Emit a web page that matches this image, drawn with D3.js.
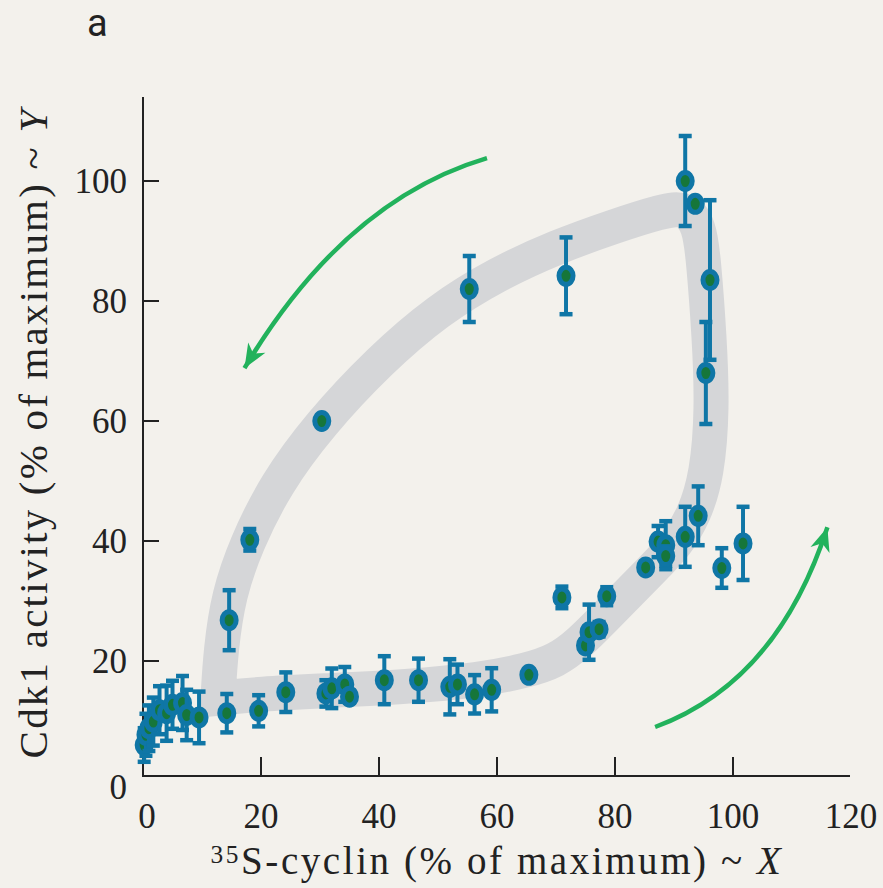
<!DOCTYPE html>
<html>
<head>
<meta charset="utf-8">
<script src="https://cdn.jsdelivr.net/npm/d3@7"></script>
<style>
  html, body { margin: 0; padding: 0; background: #f3f1ec; }
  svg { display: block; }
  .serif { font-family: "Liberation Serif", serif; }
</style>
</head>
<body>
<svg id="chart" width="883" height="888"></svg>
<script>
// ---------------- DATA ----------------
const cyclinX = [0.2, 0.5, 1.0, 1.75, 2.8, 4.0, 5.0, 6.7, 7.4, 9.5, 14.2, 19.6, 24.2, 31.0, 32.0, 34.2, 35.0, 40.9, 46.7, 52.0, 53.3, 56.2, 59.1, 65.4,
  71.0, 75.0, 75.6, 77.3, 78.6, 85.2, 87.3, 88.6, 88.6, 91.9, 94.1, 98.1, 101.7,
  14.6, 18.1, 30.3, 55.3, 71.7, 91.9, 93.6, 96.1, 95.4];
const cdkY = [6.0, 7.7, 8.8, 9.9, 11.8, 11.3, 12.7, 13.0, 11.0, 10.6, 11.3, 11.7, 14.8, 14.6, 15.45, 16.1, 14.05, 16.8, 16.8, 15.7, 16.1, 14.45, 15.2, 17.7,
  30.6, 22.6, 24.8, 25.3, 30.8, 35.6, 39.9, 39.3, 37.5, 40.7, 44.2, 35.5, 39.6,
  26.8, 40.2, 60.0, 82.0, 84.2, 100.0, 96.2, 83.5, 68.0];
const cdkErr = [2.8, 3.5, 3.8, 4.0, 4.0, 4.6, 4.0, 4.5, 4.2, 4.3, 3.2, 2.6, 3.3, 2.2, 3.3, 2.9, 1.0, 4.0, 3.6, 4.6, 3.3, 3.2, 3.6, 0.8,
  1.8, 1.0, 4.6, 1.2, 1.5, 0.8, 2.6, 4.0, 1.6, 5.0, 4.9, 3.3, 6.1,
  5.0, 1.8, 0.0, 5.5, 6.4, 7.5, 0.5, 13.3, 8.5];

// Gray guide band (control points of its centerline, in data units)
const bandX = [12.7, 13.2, 14.5, 17.5, 22.5, 30.0, 40.0, 50.0, 60.0, 70.0, 80.0, 88.0, 92.0, 94.3, 95.0, 96.0, 96.5, 95.6, 93.5, 90.5, 86.0, 82.0, 78.0, 74.0, 70.0, 65.0, 57.0, 45.0, 30.0, 19.8, 12.7];
const bandY = [13.8, 22.0, 31.0, 39.5, 49.5, 59.5, 70.0, 78.5, 84.5, 89.0, 92.5, 95.0, 95.6, 92.5, 87.0, 74.0, 62.0, 51.0, 44.5, 39.5, 35.0, 31.0, 27.0, 23.0, 20.0, 18.4, 16.8, 15.7, 15.0, 14.5, 13.8];

// Direction arrows (start, control, end) in data units
const arrowDown = [[58.3, 103.8], [34.2, 96.8], [17.2, 68.8]];
const arrowUp = [[86.8, 9.0], [107.5, 16.5], [116.0, 42.3]];

const xTicks = [0, 20, 40, 60, 80, 100, 120];
const yTicks = [0, 20, 40, 60, 80, 100];

// ---------------- DRAW ----------------
const svg = d3.select("#chart");
const x = d3.scaleLinear().domain([0, 120]).range([143, 851]);
const y = d3.scaleLinear().domain([0, 100]).range([781, 181]);

const ink = "#222222";
const blue = "#0f76a6";
const green = "#16763a";
const arrowGreen = "#22b25c";

svg.append("rect").attr("width", 883).attr("height", 888).attr("fill", "#f3f1ec");

// band
const bandPts = bandX.map((d, i) => [x(d), y(bandY[i])]);
const bandPath = d3.line().curve(d3.curveBasis)(bandPts) + "Z";
svg.append("path").attr("d", bandPath)
  .attr("fill", "none").attr("stroke", "#d5d6d8")
  .attr("stroke-width", 35).attr("stroke-linejoin", "miter");

// axes
const axisY = y(0.85);
svg.append("line").attr("x1", x(0)).attr("x2", x(120) - 1).attr("y1", axisY).attr("y2", axisY)
  .attr("stroke", ink).attr("stroke-width", 2);
svg.append("line").attr("x1", x(0)).attr("x2", x(0)).attr("y1", y(114)).attr("y2", axisY + 1)
  .attr("stroke", ink).attr("stroke-width", 2);

xTicks.filter(t => t > 0 && t < 120).forEach(t => {
  svg.append("line").attr("x1", x(t)).attr("x2", x(t)).attr("y1", axisY).attr("y2", axisY - 19)
    .attr("stroke", ink).attr("stroke-width", 2);
});
yTicks.filter(t => t > 0).forEach(t => {
  svg.append("line").attr("x1", x(0)).attr("x2", x(0) + 16).attr("y1", y(t)).attr("y2", y(t))
    .attr("stroke", ink).attr("stroke-width", 2);
});

xTicks.forEach(t => {
  svg.append("text").attr("class", "serif").attr("x", x(t) + (t === 0 ? 4 : 0)).attr("y", 828)
    .attr("text-anchor", "middle").attr("font-size", 35)
    .attr("fill", ink).text(t);
});
yTicks.forEach(t => {
  svg.append("text").attr("class", "serif").attr("x", 127).attr("y", y(t) + (t === 0 ? 6 : 0) + 12)
    .attr("text-anchor", "end")
    .attr("font-size", 35).attr("fill", ink).text(t);
});

// axis titles: size to the reference height, then spread to the reference length
function fit(sel, target, maxSize) {
  const w = sel.node().getBBox().width;
  const fs = parseFloat(sel.attr("font-size"));
  sel.attr("font-size", Math.min(maxSize, fs * target / w));
  const w2 = sel.node().getBBox().width;
  const n = sel.node().textContent.length;
  if (w2 < target) sel.attr("letter-spacing", (target - w2) / n);
}
const xl = svg.append("text").attr("class", "serif").attr("x", 497).attr("y", 874)
  .attr("text-anchor", "middle").attr("font-size", 34).attr("fill", ink);
xl.append("tspan").attr("class", "serif").attr("font-size", "0.65em").attr("dy", "-0.45em").text("35");
xl.append("tspan").attr("class", "serif").attr("dy", "0.2925em").text("S-cyclin (% of maximum) ");
xl.append("tspan").attr("class", "serif").text("~ ");
xl.append("tspan").attr("class", "serif").attr("font-style", "italic").text("X");
fit(xl, 575, 39);

const yl = svg.append("text").attr("class", "serif").attr("transform", "translate(47,433) rotate(-90)")
  .attr("text-anchor", "middle").attr("font-size", 34).attr("fill", ink);
yl.append("tspan").attr("class", "serif").text("Cdk1 activity (% of maximum) ");
yl.append("tspan").attr("class", "serif").text("~ ");
yl.append("tspan").attr("class", "serif").attr("font-style", "italic").text("Y");
fit(yl, 655, 41);

// panel letter
svg.append("text").attr("x", 87).attr("y", 36).attr("font-family", "Roboto, 'Open Sans', sans-serif")
  .attr("font-size", 38).attr("fill", ink).text("a");

// arrows
const defs = svg.append("defs");
defs.append("marker").attr("id", "ah").attr("markerUnits", "userSpaceOnUse")
  .attr("viewBox", "-26 -12 28 24").attr("refX", 0).attr("refY", 0)
  .attr("markerWidth", 28).attr("markerHeight", 24).attr("orient", "auto")
  .append("path").attr("d", "M0,0 L-24,-10 L-17,0 L-24,10 Z").attr("fill", arrowGreen);

function arrow(pts) {
  const p = d3.path();
  const s = pts.map(d => [x(d[0]), y(d[1])]);
  p.moveTo(s[0][0], s[0][1]);
  p.quadraticCurveTo(s[1][0], s[1][1], s[2][0], s[2][1]);
  svg.append("path").attr("d", p.toString()).attr("fill", "none")
    .attr("stroke", arrowGreen).attr("stroke-width", 4.5).attr("marker-end", "url(#ah)");
}
arrow(arrowDown);
arrow(arrowUp);

// data points with error bars
const pts = cyclinX.map((d, i) => ({ x: d, y: cdkY[i], e: cdkErr[i] }));
const g = svg.append("g");
pts.forEach(p => {
  const cx = x(p.x);
  if (p.e > 0) {
    const y1 = y(p.y + p.e), y2 = y(p.y - p.e);
    g.append("line").attr("x1", cx).attr("x2", cx).attr("y1", y1).attr("y2", y2)
      .attr("stroke", blue).attr("stroke-width", 4);
    [y1, y2].forEach(yy => g.append("line").attr("x1", cx - 6.5).attr("x2", cx + 6.5)
      .attr("y1", yy).attr("y2", yy).attr("stroke", blue).attr("stroke-width", 4.5));
  }
  g.append("ellipse").attr("cx", cx).attr("cy", y(p.y)).attr("rx", 7).attr("ry", 8.5)
    .attr("fill", green).attr("stroke", blue).attr("stroke-width", 5);
});
</script>
</body>
</html>
